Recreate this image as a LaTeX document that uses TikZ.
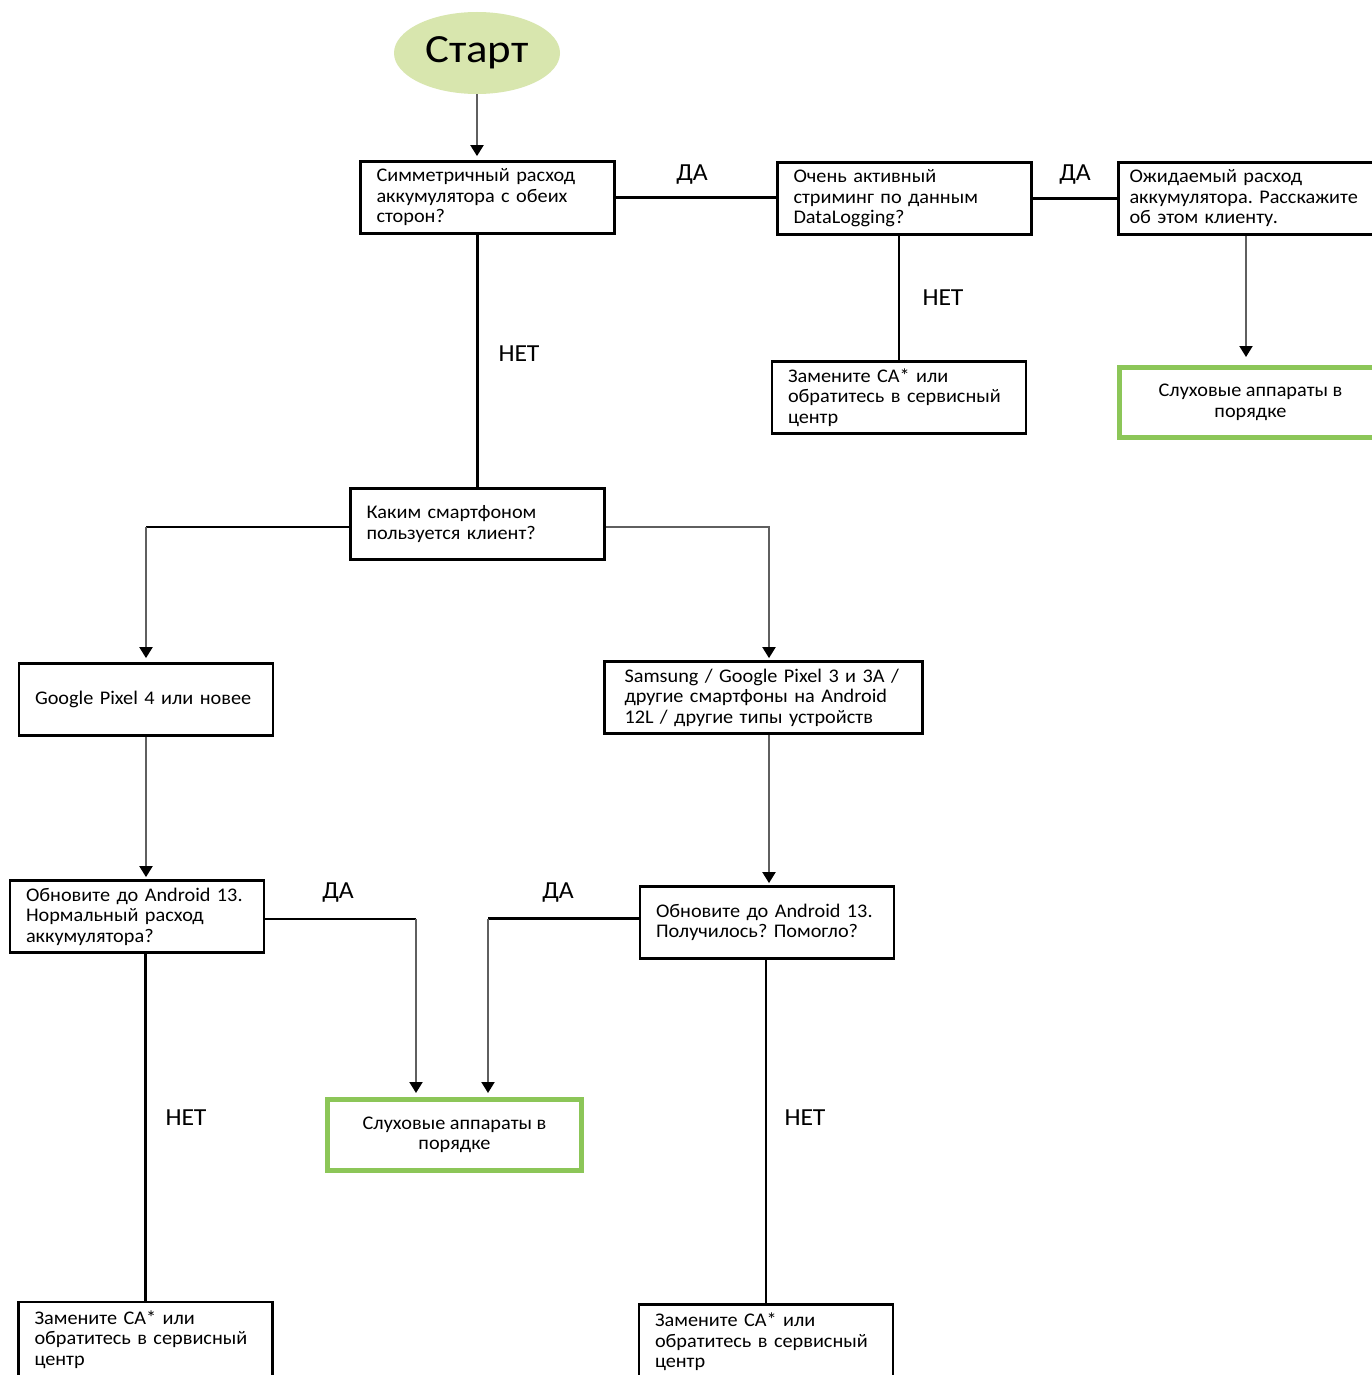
\documentclass[tikz,border=0pt]{standalone}
\usepackage{fontspec}
\setmainfont{Carlito}[FakeStretch=1.05]
\newfontfamily\startfont{Carlito}[FakeStretch=1.12]
\usetikzlibrary{arrows.meta,shapes.geometric}
\definecolor{startfill}{RGB}{216,230,174}
\definecolor{okgreen}{RGB}{140,198,88}
\definecolor{linegray}{RGB}{95,95,95}
\frenchspacing
\begin{document}
\begin{tikzpicture}[x=1pt,y=-1pt,
  box/.style={draw=black, line width=2.8pt, rectangle, inner xsep=16pt, inner ysep=0pt,
    align=left, minimum height=72pt, font=\fontsize{19.3}{20.5}\selectfont},
  okbox/.style={draw=okgreen, line width=5pt, rectangle, inner sep=0pt, align=center,
    minimum height=70pt, font=\fontsize{19.3}{20.5}\selectfont},
  lbl/.style={font=\fontsize{24.5}{26}\selectfont, inner sep=0pt},
  link/.style={line width=2.8pt, draw=black},
  arr/.style={line width=2pt, draw=linegray, -{Triangle[length=11pt,width=13pt,color=black]}},
]
\useasboundingbox (0,0) rectangle (1371,1375);
\fill[white] (0,0) rectangle (1371,1375);

\node[ellipse, fill=startfill, minimum width=166pt, minimum height=82pt, inner sep=0pt,
  font=\startfont\fontsize{40}{42}\selectfont] (start) at (477,53) {Старт};

\node[box, text width=222pt] (b1) at (487.5,197.5) {Симметричный расход\\аккумулятора с обеих\\сторон?};
\node[box, text width=222pt] (b2) at (904.5,198.5) {Очень активный\\стриминг по данным\\DataLogging?};
\node[box, inner xsep=11pt, text width=240pt] (b3) at (1249.5,198.5) {Ожидаемый расход\\аккумулятора. Расскажите\\об этом клиенту.};
\node[box, text width=222pt] (b4) at (899,397.5) {Замените СА* или\\обратитесь в сервисный\\центр};
\node[okbox, minimum width=262pt] (b5) at (1250.5,402.5) {Слуховые аппараты в\\порядке};
\node[box, text width=222pt, minimum height=71pt] (b6) at (477.5,524) {Каким смартфоном\\пользуется клиент?};
\node[box, text width=222pt] (b7) at (146,699.5) {Google Pixel 4 или новее};
\node[box, inner xsep=20pt, text width=278pt] (b8) at (763.5,697.5) {Samsung / Google Pixel 3 и 3A /\\другие смартфоны на Android\\12L / другие типы устройств};
\node[box, text width=222pt] (b9) at (137,916.5) {Обновите до Android 13.\\Нормальный расход\\аккумулятора?};
\node[box, text width=222pt] (b10) at (767,922.5) {Обновите до Android 13.\\Получилось? Помогло?};
\node[okbox, minimum width=254pt, minimum height=71pt] (b11) at (454.5,1135) {Слуховые аппараты в\\порядке};
\node[box, text width=222pt, minimum height=75pt] (b12) at (145.5,1339.5) {Замените СА* или\\обратитесь в сервисный\\центр};
\node[box, text width=222pt, minimum height=75pt] (b13) at (766,1342) {Замените СА* или\\обратитесь в сервисный\\центр};

% connectors
\draw[arr, shorten >=4pt] (start.south) -- (start.south |- b1.north);
\draw[link] (b1.east) -- (b1.east -| b2.west);
\draw[link] (b2.east) -- (b3.west);
\draw[link] (b4.north |- b2.south) -- (b4.north);
\draw[arr, shorten >=8pt] ([xshift=-3.5pt]b3.south) -- ([xshift=-3.5pt]b3.south |- b5.north);
\draw[link] (b6.north |- b1.south) -- (b6.north);

\coordinate (k1) at ([yshift=-3pt]b6.west -| b7.north);
\draw[link] ([yshift=-3pt]b6.west) -- (k1);
\draw[arr, shorten >=4pt] (k1) -- (b7.north);
\draw[arr, shorten >=2pt] ([yshift=-3pt]b6.east) -| ([xshift=5.5pt]b8.north);

\draw[arr, shorten >=2pt] (b7.south) -- (b7.south |- b9.north);
\draw[arr, shorten >=2pt] ([xshift=5.5pt]b8.south) -- ([xshift=2pt]b10.north);

\coordinate (k3) at ([xshift=-38.5pt,yshift=-2.5pt]b11.north |- b9.east);
\draw[link] ([yshift=-2.5pt]b9.east) -- (k3);
\draw[arr, shorten >=4pt] (k3) -- ([xshift=-38.5pt]b11.north);
\coordinate (k4) at ([xshift=33.5pt,yshift=4pt]b11.north |- b10.west);
\draw[link] ([yshift=4pt]b10.west) -- (k4);
\draw[arr, shorten >=4pt] (k4) -- ([xshift=33.5pt]b11.north);

\draw[link] (b12.north |- b9.south) -- (b12.north);
\draw[link] (b13.north |- b10.south) -- (b13.north);

% labels
\node[lbl] (l1) at (692,175) {ДА};
\node[lbl] (l2) at (1075,175) {ДА};
\node[lbl] (l3) at (943,298) {НЕТ};
\node[lbl] (l4) at (519,354) {НЕТ};
\node[lbl] (l5) at (338,893) {ДА};
\node[lbl] (l6) at (558,893) {ДА};
\node[lbl] (l7) at (186,1118) {НЕТ};
\node[lbl] (l8) at (805,1118) {НЕТ};
\end{tikzpicture}
\end{document}
